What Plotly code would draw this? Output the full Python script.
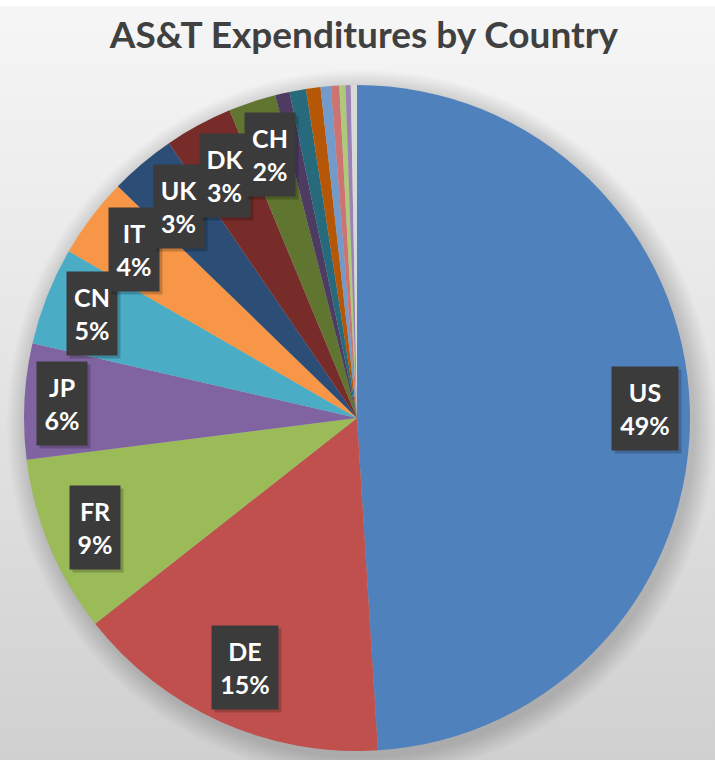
import base64
import math
import plotly.graph_objects as go

# ---- data ----
countries = ["US", "DE", "FR", "JP", "CN", "IT", "UK", "DK", "CH",
             "Other 1", "Other 2", "Other 3", "Other 4", "Other 5",
             "Other 6", "Other 7", "Other 8"]
shares = [49.0, 15.4, 8.6, 5.6, 4.75, 3.9, 3.2, 3.3, 2.3,
          0.7, 0.8, 0.7, 0.5, 0.4, 0.3, 0.25, 0.3]
labelled = ["US", "DE", "FR", "JP", "CN", "IT", "UK", "DK", "CH"]
colors = ["#4F81BD", "#C0504D", "#9BBB59", "#8064A2", "#4BACC6", "#F79646",
          "#2C4D75", "#772C2A", "#5F7530", "#4D3B62", "#276A7C", "#B65708",
          "#729ACA", "#CD7371", "#AFC97A", "#9983B5", "#D9D9D9"]
title_text = "AS&T Expenditures by Country"

# ---- layout geometry ----
W, H = 715, 760
CX, CY, R = 357, 418, 333  # pixel centre (from top) and radius of the pie
dom_x = [(CX - R) / W, (CX + R) / W]
dom_y = [(H - CY - R) / H, (H - CY + R) / H]

# background: soft grey gradient with a faint shadow around the pie
svg = f'''<svg xmlns="http://www.w3.org/2000/svg" width="{W}" height="{H}">
<defs>
<linearGradient id="g" x1="0" y1="0" x2="0" y2="1">
<stop offset="0" stop-color="#f6f6f6"/>
<stop offset="0.5" stop-color="#e4e4e4"/>
<stop offset="1" stop-color="#d0d0d0"/>
</linearGradient>
<radialGradient id="s" cx="{CX+4}" cy="{CY+6}" r="{R+22}" gradientUnits="userSpaceOnUse">
<stop offset="{R/(R+22):.3f}" stop-color="#000" stop-opacity="0.18"/>
<stop offset="1" stop-color="#000" stop-opacity="0"/>
</radialGradient>
</defs>
<rect x="0" y="0" width="{W}" height="{H}" fill="url(#g)"/>
<rect x="0" y="0" width="{W}" height="6" fill="#ffffff"/>
<circle cx="{CX+4}" cy="{CY+6}" r="{R+22}" fill="url(#s)"/>
</svg>'''
bg_src = "data:image/svg+xml;base64," + base64.b64encode(svg.encode()).decode()

fig = go.Figure(go.Pie(
    labels=countries,
    values=shares,
    sort=False,
    direction="clockwise",
    rotation=0,
    marker=dict(colors=colors, line=dict(width=0)),
    textinfo="none",
    hoverinfo="label+percent",
    domain=dict(x=dom_x, y=dom_y),
    showlegend=False,
))

# ---- label boxes placed from the slice angles ----
total = sum(shares)
cum = 0.0
annotations = []
LABEL_FONT = dict(family="Lato, 'Open Sans', sans-serif", size=25, color="white")
for name, v in zip(countries, shares):
    mid = (cum + v / 2) / total * 2 * math.pi
    cum += v
    if name not in labelled:
        continue
    pct = f"{round(v / total * 100):.0f}%"
    n = max(len(name), len(pct))
    bw, bh = 18 + 16 * n, 83
    ux, uy = math.sin(mid), -math.cos(mid)
    lo, hi = 0.0, R
    for _ in range(40):
        d = (lo + hi) / 2
        cx, cy = d * ux, d * uy
        far = max(math.hypot(cx + sx * bw / 2, cy + sy * bh / 2)
                  for sx in (-1, 1) for sy in (-1, 1))
        if far > 0.975 * R:
            hi = d
        else:
            lo = d
    px = CX + lo * ux
    py = CY + lo * uy
    common = dict(xref="paper", yref="paper", x=px / W, y=1 - py / H,
                  xanchor="center", yanchor="middle", showarrow=False,
                  width=bw, height=bh, borderpad=0)
    annotations.append(dict(common, x=(px + 3) / W, y=1 - (py + 3) / H,
                            text=" ", bgcolor="rgba(0,0,0,0.2)"))
    annotations.append(dict(common, text=f"<b>{name}<br>{pct}</b>",
                            bgcolor="#3b3b3b", font=LABEL_FONT))

fig.update_layout(
    width=W, height=H,
    margin=dict(l=0, r=0, t=0, b=0),
    paper_bgcolor="#e6e6e6",
    title=dict(text=f"<b>{title_text}</b>", x=0.509, xanchor="center",
               y=1 - 35 / H, yanchor="middle", yref="container",
               font=dict(family="Lato, 'Open Sans', sans-serif", size=37, color="#404040")),
    images=[dict(source=bg_src, xref="paper", yref="paper", x=0, y=1,
                 sizex=1, sizey=1, xanchor="left", yanchor="top",
                 sizing="stretch", layer="below")],
    annotations=annotations,
)

fig.write_html("out.html", config={"displayModeBar": False},
               post_script="document.body.style.margin='0px';")
